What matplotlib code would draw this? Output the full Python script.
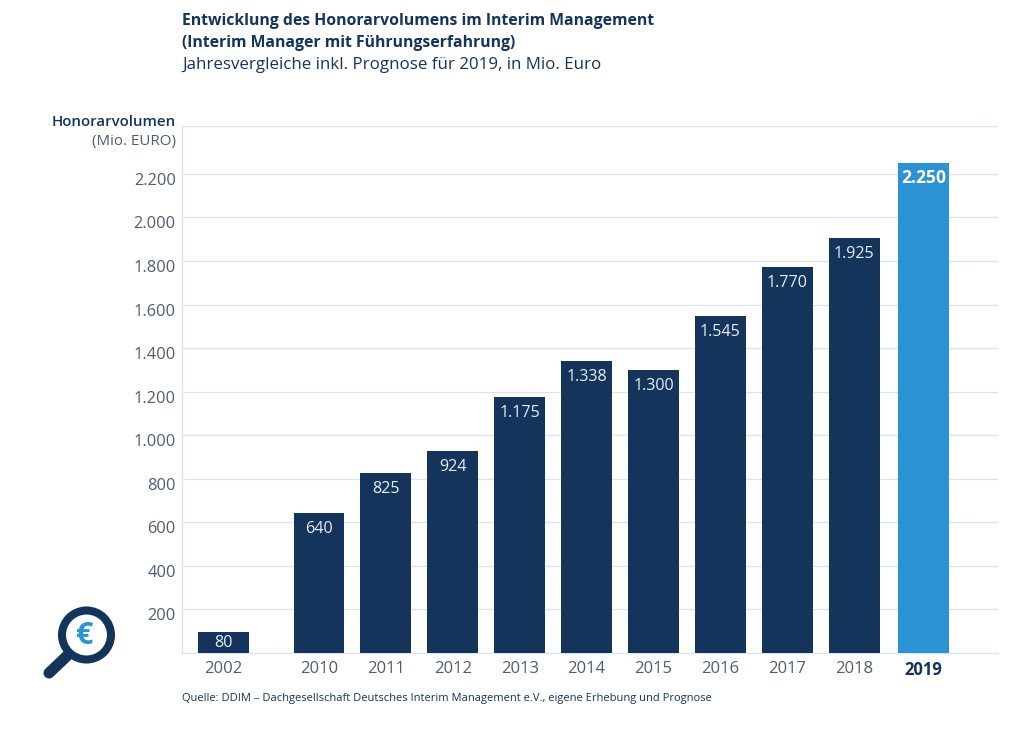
import matplotlib
matplotlib.use("Agg")
from matplotlib import pyplot as plt
from matplotlib.patches import Circle
from matplotlib.transforms import ScaledTranslation

plt.rcParams['font.family'] = ['Open Sans', 'DejaVu Sans']

years = ['2002', '2010', '2011', '2012', '2013', '2014', '2015', '2016', '2017', '2018', '2019']
# heights as drawn in the picture, the printed labels differ a little for 2002 and 2018
heights = [96, 642, 826, 926, 1175, 1340, 1299, 1547, 1772, 1905, 2250]
labels = ['80', '640', '825', '924', '1.175', '1.338', '1.300', '1.545', '1.770', '1.925', '2.250']
positions = [-1.428, 0, 1, 2, 3, 4, 5, 6, 7, 8, 9.036]
yticks = [200, 400, 600, 800, 1000, 1200, 1400, 1600, 1800, 2000, 2200]
ytick_labels = ['200', '400', '600', '800', '1.000', '1.200', '1.400', '1.600', '1.800', '2.000', '2.200']
top_line = 2420

navy = '#15345c'
blue = '#2b93d3'
grey = '#4f5d70'
grid = '#dde4ec'

W, H = 1024, 731
fig = plt.figure(figsize=(10.24, 7.31), dpi=100, facecolor='white')
ax = fig.add_axes([182 / W, 1 - 653 / H, (998 - 182) / W, (653 - 126) / H])

colors = [navy] * 10 + [blue]
ax.bar(positions, heights, width=0.762, color=colors, zorder=3)

for p, h, l, y in zip(positions, heights, labels, years):
    if y == '2019':
        ax.annotate(l, (p, h), xytext=(0, -15), textcoords='offset pixels', ha='center', va='center',
                    color='white', fontsize=12.6, fontweight='bold', zorder=4)
    elif y == '2002':
        ax.annotate(l, (p, h), xytext=(0, -11), textcoords='offset pixels', ha='center', va='center',
                    color='#e8edf3', fontsize=11.6, zorder=4)
    else:
        ax.annotate(l, (p, h), xytext=(0, -16), textcoords='offset pixels', ha='center', va='center',
                    color='#e8edf3', fontsize=11.6, zorder=4)

ax.set_xlim(-2.048, 10.15)
ax.set_ylim(0, top_line)
ax.set_yticks(yticks + [top_line])
ax.set_yticklabels(ytick_labels + [''], fontsize=11.8, color=grey)
ax.set_xticks(positions)
ax.set_xticklabels(years, fontsize=12, color=grey)
ax.get_xticklabels()[-1].set_fontweight('bold')
ax.get_xticklabels()[-1].set_color(navy)
ax.tick_params(axis='both', length=0)
ax.tick_params(axis='x', pad=6)
ax.tick_params(axis='y', pad=4.5)
# y labels sit a few pixels under their gridlines
shift = ScaledTranslation(0, -3.6 / 72, fig.dpi_scale_trans)
for t in ax.get_yticklabels():
    t.set_transform(t.get_transform() + shift)
ax.grid(axis='y', color=grid, linewidth=1.0, zorder=0)
ax.set_axisbelow(True)
for s in ['top', 'right']:
    ax.spines[s].set_visible(False)
for s in ['left', 'bottom']:
    ax.spines[s].set_color(grid)
    ax.spines[s].set_linewidth(1.0)

# titles
fig.text(182 / W, 1 - 21 / H, 'Entwicklung des Honorarvolumens im Interim Management', fontsize=11.35,
         fontweight='bold', color=navy, va='center')
fig.text(182 / W, 1 - 43 / H, '(Interim Manager mit Führungserfahrung)', fontsize=11.35,
         fontweight='bold', color=navy, va='center')
fig.text(182 / W, 1 - 65 / H, 'Jahresvergleiche inkl. Prognose für 2019, in Mio. Euro', fontsize=12.2,
         color=navy, va='center')

# y axis caption
fig.text(176 / W, 1 - 122 / H, 'Honorarvolumen', fontsize=10.8, fontweight='semibold', color=navy,
         ha='right', va='center')
fig.text(176 / W, 1 - 142 / H, '(Mio. EURO)', fontsize=10.9, color=grey, ha='right', va='center')

# source
fig.text(182 / W, 1 - 699 / H, 'Quelle: DDIM – Dachgesellschaft Deutsches Interim Management e.V., eigene Erhebung und Prognose',
         fontsize=8.05, color=navy, va='center')

# magnifier icon, overlay in pixel coordinates
icon = fig.add_axes([0, 0, 1, 1], facecolor='none')
icon.set_xlim(0, W)
icon.set_ylim(H, 0)
icon.axis('off')
icon.plot([49, 68], [673, 655], color=navy, linewidth=8, solid_capstyle='round')
icon.add_patch(Circle((86.5, 635), 24.5, facecolor='white', edgecolor=navy, linewidth=5.8, zorder=3))
icon.text(84.5, 636, '€', fontsize=22, fontweight='bold', color=blue, ha='center', va='center', zorder=4)

fig.savefig('out.png', dpi=100)
